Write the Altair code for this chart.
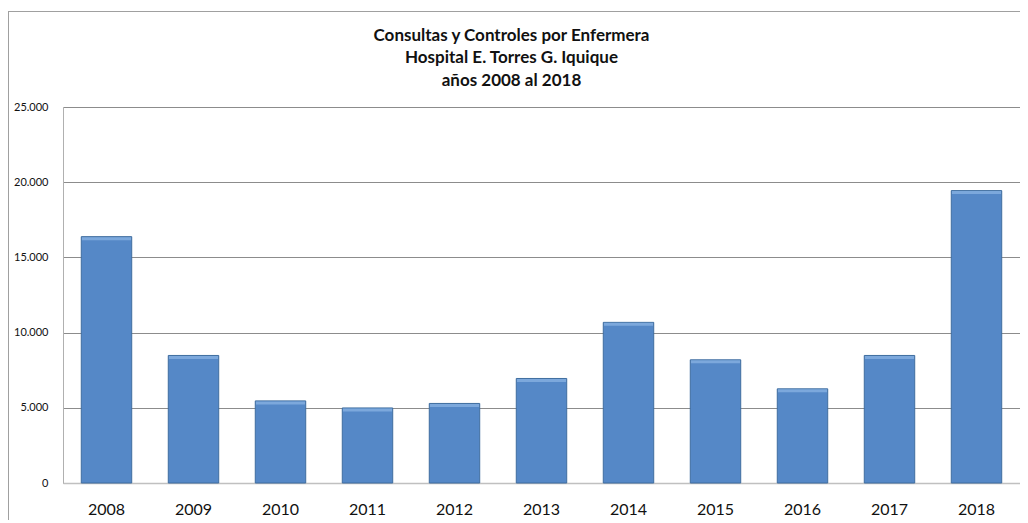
import altair as alt
import pandas as pd

years = ["2008", "2009", "2010", "2011", "2012", "2013", "2014", "2015", "2016", "2017", "2018"]
values = [16380, 8480, 5460, 4990, 5290, 6950, 10680, 8190, 6260, 8480, 19440]
y_ticks = [0, 5000, 10000, 15000, 20000, 25000]
title_lines = ["Consultas y Controles por Enfermera", "Hospital E. Torres G. Iquique", "años 2008 al 2018"]

df = pd.DataFrame({"year": years, "value": values})

W, H = 957, 376
PAD_L, PAD_T, PAD_R, PAD_B = 55, 99, 0, 37

x_enc = alt.X("year:N", sort=years,
              scale=alt.Scale(paddingInner=0.42, paddingOuter=0.21),
              axis=alt.Axis(title=None, labelAngle=0, labelFontSize=16, labelFont="Lato",
                            labelColor="#111111", labelPadding=18, ticks=False,
                            domainColor="#c0c0c0", domainWidth=1.5))
y_enc = alt.Y("value:Q", scale=alt.Scale(domain=[0, 25000], nice=False),
              axis=alt.Axis(title=None, values=y_ticks, ticks=False, labelFontSize=11,
                            labelFont="Lato", labelColor="#111111", labelPadding=15,
                            labelExpr="replace(format(datum.value, ','), ',', '.')",
                            domainColor="#b0b0b0",
                            gridColor={"condition": {"test": "datum.value === 0", "value": "#c0c0c0"},
                                       "value": "#8c8c8c"},
                            gridWidth=1))

base = alt.Chart(df)

bars = base.mark_bar(color="#5588c7", stroke="#3f6d9f", strokeWidth=1).encode(x=x_enc, y=y_enc)
tops = base.mark_tick(color="#8db6e6", thickness=3, size=49, yOffset=2).encode(
    x=alt.X("year:N", sort=years), y=alt.Y("value:Q"))

frame_left = alt.Chart(df).mark_rule(color="#a0a0a0", strokeWidth=1).encode(
    x=alt.value(-PAD_L + 0.5), y=alt.value(-PAD_T + 3), y2=alt.value(H + PAD_B))
frame_top = alt.Chart(df).mark_rule(color="#a0a0a0", strokeWidth=1).encode(
    x=alt.value(-PAD_L), x2=alt.value(W + PAD_R), y=alt.value(-PAD_T + 3.5))

chart = alt.layer(bars, tops, frame_left, frame_top).properties(
    width=W, height=H,
    title=alt.Title(text=title_lines, fontSize=17, font="Lato", fontWeight="bold",
                    color="#111111", anchor="middle", frame="group", dx=-30,
                    offset=0, dy=96, baseline="bottom", lineHeight=22.5),
    autosize=alt.AutoSizeParams(type="none"),
    padding={"left": PAD_L, "top": PAD_T, "right": PAD_R, "bottom": PAD_B},
).configure_view(fill="#f2f2f2", stroke=None).configure(background="white")

chart.save("out.html", embed_options={"renderer": "svg", "actions": False})
